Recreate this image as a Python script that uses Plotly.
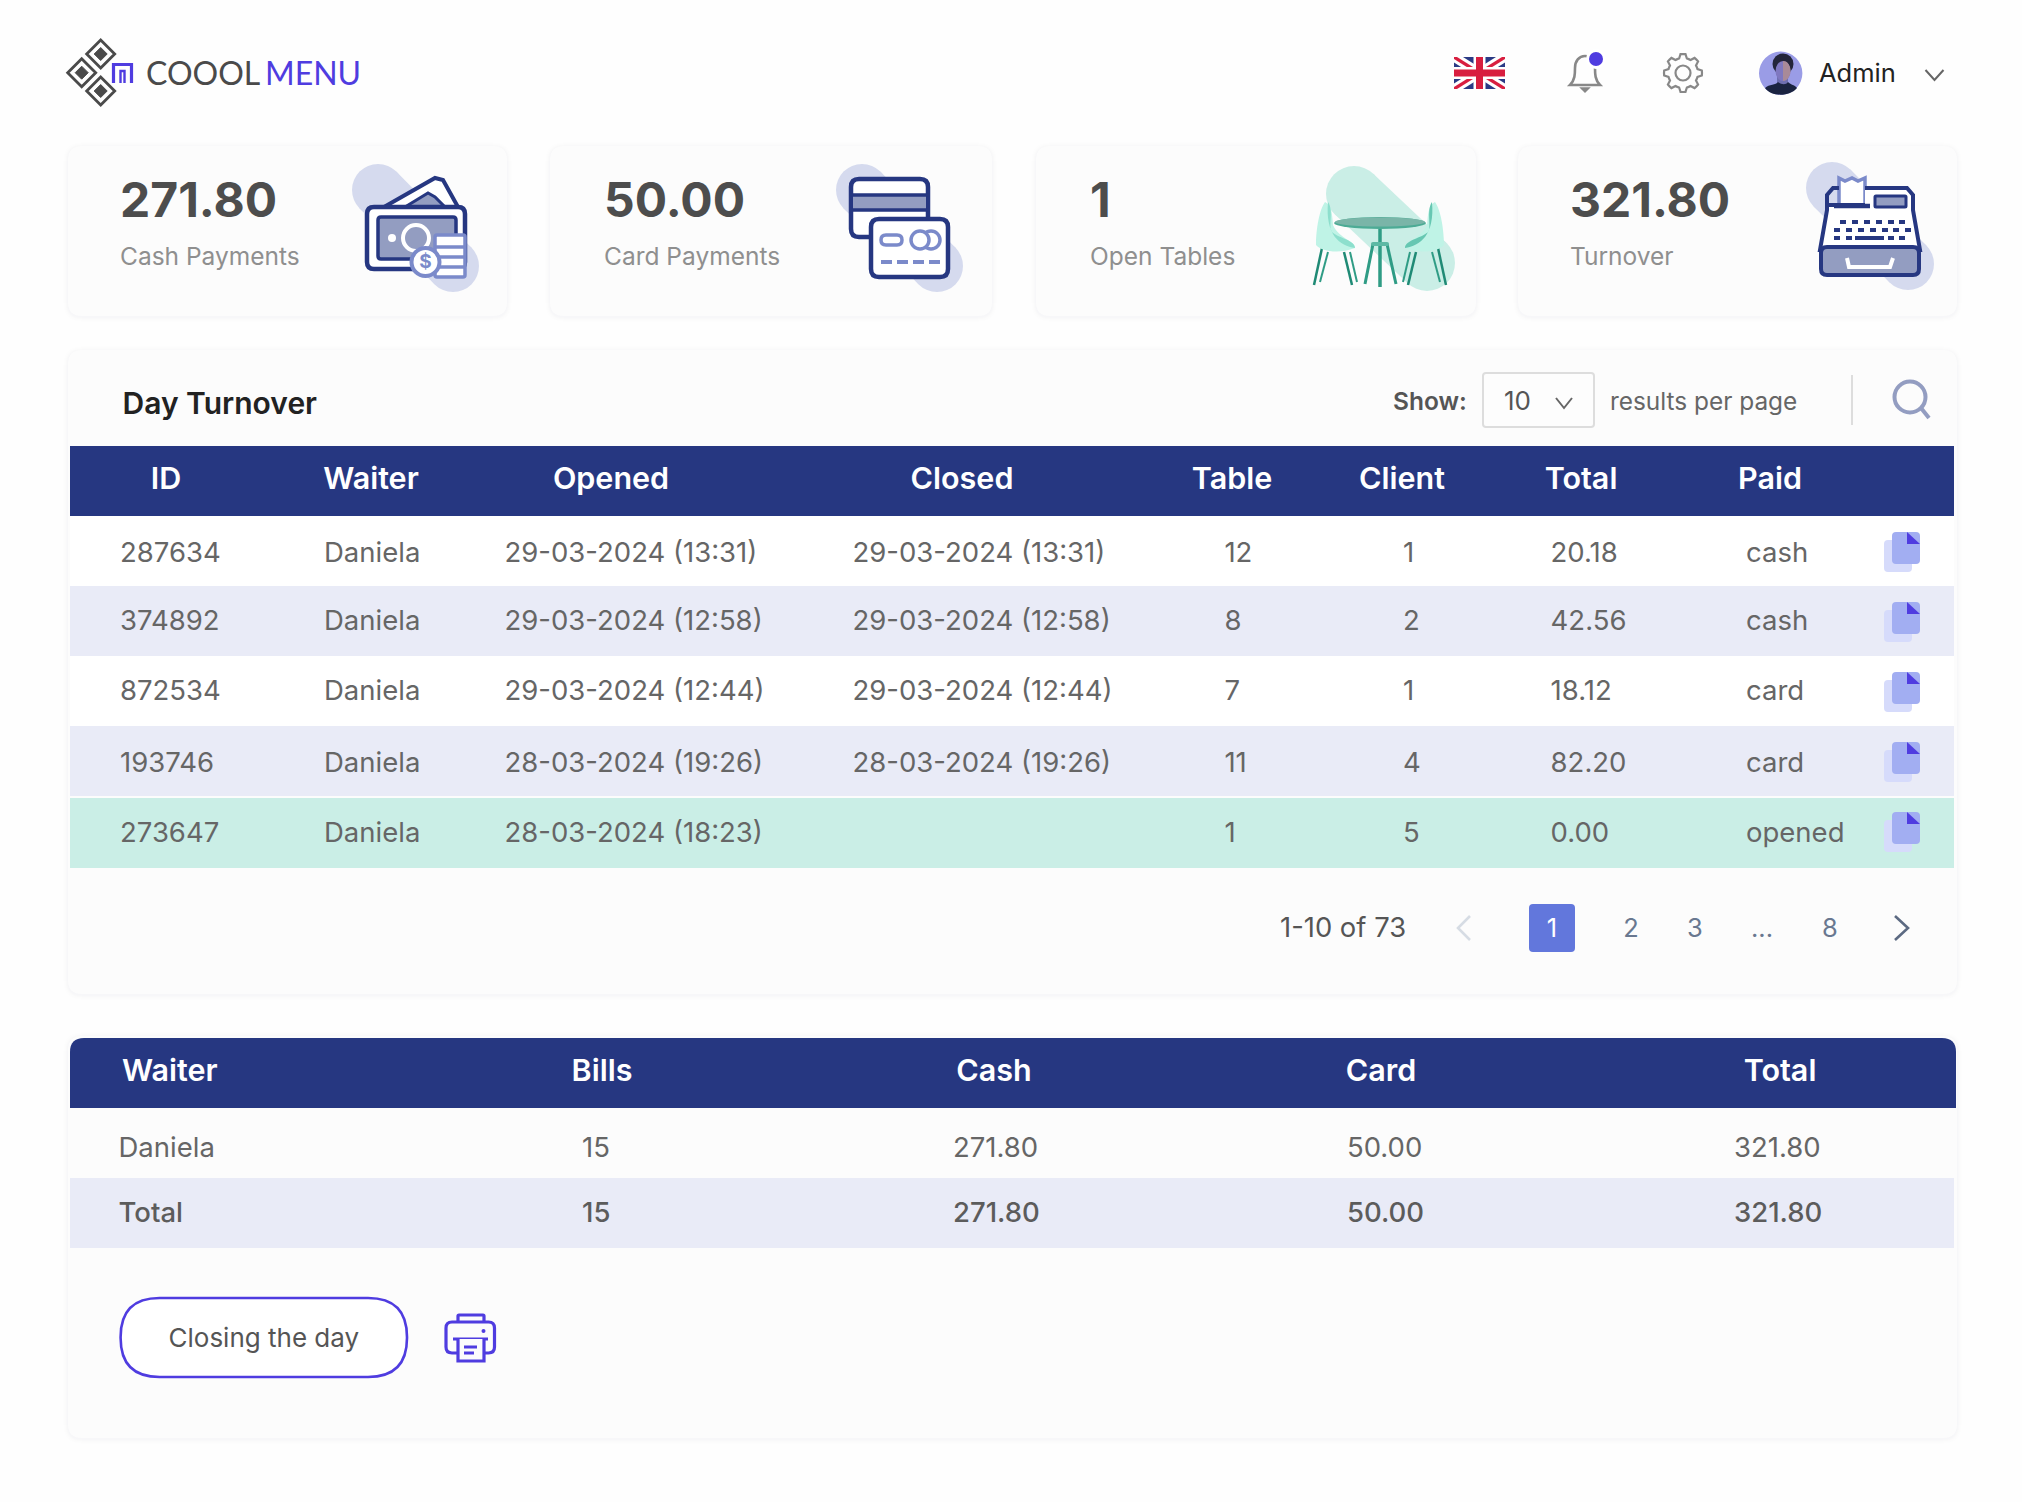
'''
day turnover dashboard screen drawn on a pixel sized plotly canvas
'''

import math

import plotly.graph_objects as go

# top cards
card_values = ["271.80", "50.00", "1", "321.80"]
card_labels = ["Cash Payments", "Card Payments", "Open Tables", "Turnover"]

# day turnover table
turnover_headers = ["ID", "Waiter", "Opened", "Closed", "Table", "Client", "Total", "Paid"]
row_ids = ["287634", "374892", "872534", "193746", "273647"]
row_waiters = ["Daniela", "Daniela", "Daniela", "Daniela", "Daniela"]
row_opened = ["29-03-2024 (13:31)", "29-03-2024 (12:58)", "29-03-2024 (12:44)",
              "28-03-2024 (19:26)", "28-03-2024 (18:23)"]
row_closed = ["29-03-2024 (13:31)", "29-03-2024 (12:58)", "29-03-2024 (12:44)",
              "28-03-2024 (19:26)", ""]
row_tables = ["12", "8", "7", "11", "1"]
row_clients = ["1", "2", "1", "4", "5"]
row_totals = ["20.18", "42.56", "18.12", "82.20", "0.00"]
row_paid = ["cash", "cash", "card", "card", "opened"]
page_labels = ["2", "3", "...", "8"]

# waiter summary table
summary_headers = ["Waiter", "Bills", "Cash", "Card", "Total"]
summary_daniela = ["Daniela", "15", "271.80", "50.00", "321.80"]
summary_total = ["Total", "15", "271.80", "50.00", "321.80"]

FONT = "Inter"
NAVY = "#263781"
MID = "#7b8aca"
SOFT = "#939dc1"
BLOB = "#d5daee"
LAVENDER = "#e9ebf7"
MINT = "#caeee6"
PURPLE = "#4f3ce0"
CARD = "#fcfcfc"

shapes = []
fig = go.Figure()


def rounded(x0, y0, x1, y1, r):
    return (f"M{x0+r},{y0} L{x1-r},{y0} Q{x1},{y0} {x1},{y0+r} L{x1},{y1-r} Q{x1},{y1} {x1-r},{y1} "
            f"L{x0+r},{y1} Q{x0},{y1} {x0},{y1-r} L{x0},{y0+r} Q{x0},{y0} {x0+r},{y0} Z")


def add_path(path, fill=None, line=None, width=0):
    shapes.append(dict(type="path", path=path, fillcolor=fill or "rgba(0,0,0,0)",
                       line=dict(color=line or "rgba(0,0,0,0)", width=width), layer="below"))


def add_box(x0, y0, x1, y1, r=0, fill=None, line=None, width=0):
    add_path(rounded(x0, y0, x1, y1, r), fill, line, width)


def add_rect(x0, y0, x1, y1, fill):
    shapes.append(dict(type="rect", x0=x0, y0=y0, x1=x1, y1=y1, fillcolor=fill,
                       line=dict(width=0), layer="below"))


def add_circle(cx, cy, r, fill=None, line=None, width=0, ry=None):
    ry = ry or r
    shapes.append(dict(type="circle", x0=cx-r, y0=cy-ry, x1=cx+r, y1=cy+ry,
                       fillcolor=fill or "rgba(0,0,0,0)",
                       line=dict(color=line or "rgba(0,0,0,0)", width=width), layer="below"))


def add_line(x0, y0, x1, y1, color, width):
    shapes.append(dict(type="line", x0=x0, y0=y0, x1=x1, y1=y1,
                       line=dict(color=color, width=width), layer="below"))


def add_polyline(points, color, width, fill=None, close=False):
    path = "M" + " L".join(f"{x},{y}" for x, y in points) + (" Z" if close else "")
    add_path(path, fill, color, width)


def add_text(xs, ys, texts, size, color, weight=400, anchor="middle right", family=FONT):
    fig.add_trace(go.Scatter(x=xs, y=[y+size*0.06 for y in ys], text=texts, mode="text", textposition=anchor,
                             textfont=dict(family=family, size=size, color=color, weight=weight),
                             hoverinfo="skip", showlegend=False, cliponaxis=False))


def add_card(x0, y0, x1, y1):
    # soft shadow: a few faint outlines growing outwards
    for grow, alpha in [(5, 0.003), (4, 0.004), (3, 0.005), (2, 0.006), (1, 0.008)]:
        add_box(x0-grow, y0-grow+1, x1+grow, y1+grow+1, 14+grow, f"rgba(30,40,90,{alpha})")
    add_box(x0, y0, x1, y1, 14, CARD)


def add_blob(x0, y0, x1, y1, r, color):
    add_line(x0, y0, x1, y1, color, r*2)
    add_circle(x0, y0, r, color)
    add_circle(x1, y1, r, color)


def chevron(x, y, w, h, color, width):
    add_polyline([(x-w, y-h), (x, y+h), (x+w, y-h)], color, width)


def draw_logo():
    for cx, cy in [(100.7, 54), (81.7, 72.7), (100.7, 91)]:
        add_polyline([(cx, cy-14), (cx+14, cy), (cx, cy+14), (cx-14, cy)], "#4a4a4a", 2.8, "#fefefe", True)
        add_polyline([(cx, cy-6.5), (cx+6.5, cy), (cx, cy+6.5), (cx-6.5, cy)], "#4a4a4a", 1, "#4a4a4a", True)
    add_polyline([(113.5, 83), (113.5, 64.5), (131.5, 64.5), (131.5, 83)], PURPLE, 3.2)
    add_polyline([(120.5, 83), (120.5, 71), (124.5, 71), (124.5, 83)], PURPLE, 2.4)
    add_text([146], [75], ["COOOL"], 32, "#4a4a4a", 400, family="Lato")
    add_text([265], [75], ["MENU"], 32, PURPLE, 400, family="Lato")


def draw_topbar():
    # flag
    x0, x1, y0, y1 = 1454, 1505, 57, 89
    xm, ym = (x0+x1)/2, (y0+y1)/2
    add_rect(x0, y0, x1, y1, "#2b3a85")
    for dx, dy, color in [(9, 5.5, "#ffffff"), (3, 2, "#d81e3f")]:
        add_polyline([(x0, y0), (x0+dx, y0), (x1, y1-dy), (x1, y1), (x1-dx, y1), (x0, y0+dy)], None, 0, color, True)
        add_polyline([(x1, y0), (x1-dx, y0), (x0, y1-dy), (x0, y1), (x0+dx, y1), (x1, y0+dy)], None, 0, color, True)
    add_rect(xm-6, y0, xm+6, y1, "#ffffff")
    add_rect(x0, ym-6, x1, ym+6, "#ffffff")
    add_rect(xm-3.5, y0, xm+3.5, y1, "#d81e3f")
    add_rect(x0, ym-3.5, x1, ym+3.5, "#d81e3f")
    # bell
    add_path("M1570,85 C1575,80 1575,74 1575,68 C1575,61 1579,56 1585,56 C1591,56 1595,61 1595,68 "
             "C1595,74 1595,80 1600,85 Z", None, "#888888", 2.6)
    add_polyline([(1581, 88), (1589, 88), (1585, 92)], "#888888", 1.5, "#888888", True)
    add_circle(1596, 59, 10, "#ffffff")
    add_circle(1596, 59, 7, PURPLE)
    # gear
    gear = []
    for i in range(48):
        a = 2*math.pi*i/48
        r = 19 if (i % 6) in (0, 1, 5) else 15
        gear.append((1683+r*math.cos(a), 73+r*math.sin(a)))
    add_polyline(gear, "#888888", 2.2, None, True)
    add_circle(1683, 73, 7.5, None, "#888888", 2.2)
    # avatar
    add_circle(1780.7, 73.3, 21.7, "#9a9ce6")
    add_circle(1783, 64, 10.5, "#23253a", ry=10.5)
    add_rect(1777, 76, 1788, 85, "#6f6fb0")
    add_circle(1783, 71, 7.5, "#7f78c0", ry=10)
    add_path("M1783,61 C1788,61 1790.5,66 1790.5,71 C1790.5,76 1787,81 1783,81 Z", "#a98a98")
    add_path("M1765,88 C1769,84 1776,85 1778,82 C1782,85 1786,85 1788,82 C1791,85 1795,85 1797,88 "
             "C1790,97 1771,97 1765,88 Z", "#1a2340")
    add_text([1819], [74], ["Admin"], 25.5, "#222222")
    chevron(1934.5, 75, 9, 5, "#666666", 2)


def draw_cards():
    boxes = [(68, 507), (550, 992), (1036, 1476), (1518, 1957)]
    text_x = [120, 604, 1090, 1570]
    for (x0, x1) in boxes:
        add_card(x0, 146, x1, 316)
    add_text(text_x, [202.5]*4, card_values, 48, "#4d4d4d", 700)
    add_text(text_x, [257]*4, card_labels, 24.5, "#8f8f8f")

    # cash
    add_blob(378, 190, 453, 266, 26, BLOB)
    add_polyline([(384, 207), (435, 178), (443, 180), (458, 207)], NAVY, 4, "#ffffff", True)
    add_polyline([(405, 207), (428, 193), (435, 197), (445, 207)], NAVY, 3, SOFT, True)
    add_box(367, 207, 465, 269, 7, "#ffffff", NAVY, 4.5)
    add_box(378, 217, 456, 259, 3, SOFT, NAVY, 3.5)
    add_circle(416, 238, 13, SOFT, "#ffffff", 4)
    add_circle(392, 238, 4, "#ffffff")
    add_box(435, 235, 465, 277, 2, "#ffffff", MID, 3.5)
    for y in (247, 257, 267):
        add_line(435, y, 465, y, MID, 3.5)
    add_circle(425.5, 262, 14, "#ffffff", MID, 4)

    # card
    add_blob(862, 190, 937, 266, 26, BLOB)
    add_box(851, 179, 928, 237, 8, "#ffffff", NAVY, 4.5)
    add_rect(853, 195, 926, 210, SOFT)
    add_line(851, 195, 928, 195, NAVY, 3.5)
    add_line(851, 210, 928, 210, NAVY, 3.5)
    add_box(871, 219, 948, 277, 8, "#ffffff", NAVY, 4.5)
    add_box(881, 235, 902, 245, 5, "#ffffff", MID, 3.5)
    add_circle(931, 240, 9, "#ffffff", MID, 3.5)
    add_circle(920, 240, 9, "#ffffff", MID, 3.5)
    for x in (881, 897, 913, 929):
        add_line(x, 262, x+11, 262, MID, 4)

    # tables
    add_blob(1354, 194, 1427, 263, 28, MINT)
    add_line(1380, 229, 1380, 287, "#2f9c85", 3.5)
    add_line(1373, 244, 1365, 284, "#2f9c85", 3)
    add_line(1387, 244, 1396, 284, "#2f9c85", 3)
    add_box(1371, 242, 1389, 246, 2, "#5cb9a4")
    add_circle(1380, 223, 46, "#4cab95", ry=6)
    add_circle(1380, 222, 45, "#7ab5a8", ry=4.5)
    for sign, inner in ((1, "#8ddfcd"), (-1, "#66c7b2")):
        xs = lambda v: 1380 - sign*(1380-v)
        add_line(xs(1322), 248, xs(1314), 285, "#1f8a75", 2.5)
        add_line(xs(1328), 252, xs(1320), 282, "#2f9c85", 2)
        add_line(xs(1344), 252, xs(1352), 285, "#1f8a75", 2.5)
        add_line(xs(1350), 252, xs(1357), 282, "#2f9c85", 2)
        add_path(f"M{xs(1325)},202 C{xs(1318)},212 {xs(1316)},235 {xs(1316)},245 "
                 f"C{xs(1322)},252 {xs(1340)},254 {xs(1355)},248 C{xs(1355)},240 {xs(1340)},240 "
                 f"{xs(1333)},225 C{xs(1332)},215 {xs(1332)},205 {xs(1325)},202 Z", "#bff3e6")
        add_path(f"M{xs(1328)},202 C{xs(1334)},210 {xs(1328)},228 {xs(1332)},232 "
                 f"C{xs(1338)},238 {xs(1355)},240 {xs(1355)},248 C{xs(1340)},246 {xs(1325)},235 "
                 f"{xs(1328)},202 Z", inner)

    # register
    add_blob(1832, 188, 1908, 264, 26, BLOB)
    add_polyline([(1839, 205), (1839, 178), (1845, 181), (1852, 178), (1858, 181), (1865, 178), (1865, 205)],
                 MID, 3.5, "#ffffff", True)
    add_polyline([(1827, 205), (1827, 195), (1833, 188), (1839, 188)], NAVY, 4)
    add_polyline([(1865, 188), (1907, 188), (1913, 195), (1913, 210), (1920, 250), (1820, 250),
                  (1827, 210), (1827, 205), (1865, 205)], NAVY, 4, "#ffffff")
    add_line(1834, 206, 1870, 206, NAVY, 4.5)
    add_box(1875, 196, 1906, 207, 1, SOFT, NAVY, 3)
    for y, xs in [(222, (1840, 1852, 1864, 1876, 1888, 1899)),
                  (230, (1834, 1846, 1858, 1870, 1882, 1893, 1905)),
                  (238, (1834, 1846, 1888, 1899))]:
        for x in xs:
            add_line(x, y, x+6, y, NAVY, 4)
    add_line(1855, 238, 1884, 238, NAVY, 4)
    add_box(1821, 247, 1919, 275, 6, SOFT, NAVY, 4)
    add_polyline([(1847, 258), (1849, 267), (1890, 267), (1893, 258)], "#ffffff", 4)
    add_text([425.5], [262], ["$"], 19, MID, 700, "middle center")


def draw_turnover():
    add_card(68, 350, 1957, 994)
    add_text([122.5], [405], ["Day Turnover"], 30, "#222222", 600)
    add_text([1393], [402], ["Show:"], 24.5, "#555555", 600)
    add_box(1483, 373, 1594, 427, 3, "#fdfdfd", "#dddddd", 2)
    add_text([1504], [402], ["10"], 26, "#555555")
    chevron(1564, 403, 8, 5, "#666666", 2)
    add_text([1610], [402], ["results per page"], 24.4, "#666666")
    add_line(1852, 375, 1852, 425, "#dddddd", 2)
    add_circle(1910, 397, 15.5, None, SOFT, 4)
    add_line(1921, 408, 1929, 418, SOFT, 4)

    add_rect(70, 446, 1954, 516, NAVY)
    header_x = [166, 371, 611, 962, 1232, 1402, 1581, 1770]
    add_text(header_x, [480]*8, turnover_headers, 30.5, "#ffffff", 600, "middle center")

    bands = [(516, 586, None), (586, 656, LAVENDER), (656, 726, None), (726, 796, LAVENDER), (798, 868, MINT)]
    for y0, y1, color in bands:
        add_rect(70, y0, 1954, y1, color or "#ffffff")
    row_y = [553.5, 621, 691, 763.5, 833]
    columns = [(120, row_ids), (324, row_waiters), (504.5, row_opened), (852.5, row_closed),
               (1224.4, row_tables), (1403, row_clients), (1550.6, row_totals), (1746, row_paid)]
    for x, values in columns:
        add_text([x]*5, row_y, values, 27.5, "#666666")

    for top in (532, 602, 672, 742, 812):
        add_box(1884, top+8, 1912, top+40, 4, "#d6dbfb")
        add_box(1892, top, 1920, top+32, 4, "#a2aef2")
        add_polyline([(1907, top), (1920, top+12), (1907, top+12)], None, 0, PURPLE, True)

    add_text([1280], [929], ["1-10 of 73"], 27.4, "#555555")
    add_polyline([(1470, 916), (1458, 928), (1470, 940)], "#d6dce4", 2.6)
    add_box(1529, 904, 1575, 952, 4, "#6277dc")
    add_text([1552], [929], ["1"], 25.5, "#ffffff", 400, "middle center")
    add_text([1631, 1695, 1762, 1830], [929]*4, page_labels, 25.5, "#697890", 400, "middle center")
    add_polyline([(1895, 916), (1908, 928), (1895, 940)], "#5c6a82", 2.6)


def draw_summary():
    add_card(68, 1036, 1957, 1438)
    add_path("M70,1108 L70,1052 Q70,1038 84,1038 L1942,1038 Q1956,1038 1956,1052 L1956,1108 Z", NAVY)
    add_text([122], [1072], summary_headers[:1], 30.5, "#ffffff", 600)
    add_text([602, 994, 1381, 1780], [1072]*4, summary_headers[1:], 30.5, "#ffffff", 600, "middle center")
    add_rect(70, 1178, 1954, 1248, LAVENDER)
    col_x = [118.5, 582, 953, 1347, 1734]
    add_text(col_x, [1148]*5, summary_daniela, 27.5, "#666666")
    add_text(col_x, [1213]*5, summary_total, 27.5, "#5c5c5c", 500)

    add_box(120.6, 1298, 407, 1377, 39, "#ffffff", PURPLE, 2.6)
    add_text([168.5], [1339], ["Closing the day"], 26, "#555555")
    # printer
    add_box(458, 1315, 484, 1330, 1, None, PURPLE, 3.2)
    add_box(446, 1322, 494.5, 1353, 6, CARD, PURPLE, 3.2)
    add_line(453, 1339, 488, 1339, PURPLE, 3.2)
    add_rect(458, 1339, 484, 1361, CARD)
    add_polyline([(458, 1339), (458, 1361), (484, 1361), (484, 1339)], PURPLE, 3.2)
    add_line(464, 1347, 477, 1347, PURPLE, 3)
    add_line(464, 1353, 474, 1353, PURPLE, 3)
    add_circle(483.5, 1331, 2, PURPLE)


draw_logo()
draw_topbar()
draw_cards()
draw_turnover()
draw_summary()

fig.update_layout(
    width=2022, height=1502, margin=dict(l=0, r=0, t=0, b=0),
    paper_bgcolor="#fefefe", plot_bgcolor="#fefefe", shapes=shapes, showlegend=False,
    xaxis=dict(range=[0, 2022], visible=False, fixedrange=True),
    yaxis=dict(range=[1502, 0], visible=False, fixedrange=True),
)
fig.write_html("out.html", config=dict(displayModeBar=False),
               post_script="document.body.style.margin='0';document.body.style.background='#fefefe';")
